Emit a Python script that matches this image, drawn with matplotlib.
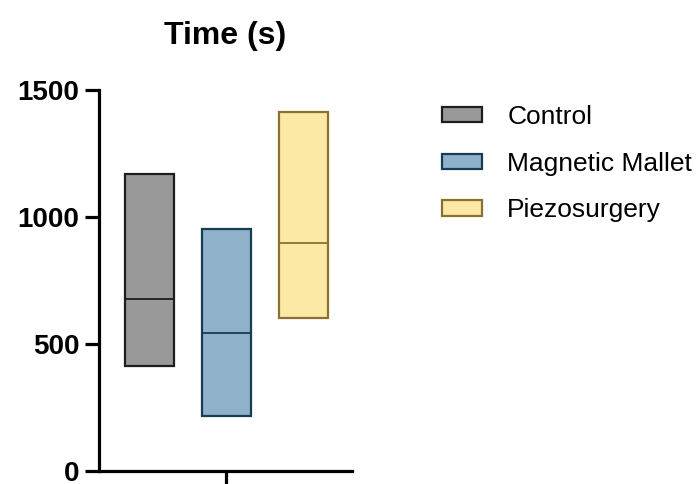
import matplotlib
matplotlib.use("Agg")
import matplotlib.pyplot as plt
from matplotlib.patches import Patch

plt.rcParams["font.family"] = ["Liberation Sans", "DejaVu Sans"]

groups = ["Control", "Magnetic Mallet", "Piezosurgery"]
lows = [412, 218, 601]
highs = [1170, 953, 1413]
medians = [678, 542, 899]
faces = ["#999999", "#8fb1ca", "#fde9a6"]
edges = ["#1e1e1e", "#173d52", "#8a7032"]

positions = [-1, 0, 1]
width = 0.64

fig = plt.figure(figsize=(6.97, 4.84), dpi=100)
ax = fig.add_axes([0.142, 0.027, 0.363, 0.787])

for x, lo, hi, med, fc, ec in zip(positions, lows, highs, medians, faces, edges):
    ax.bar(x, hi - lo, bottom=lo, width=width, color=fc, edgecolor=ec, linewidth=1.6)
    ax.plot([x - width / 2, x + width / 2], [med, med], color=ec, linewidth=1.3,
            solid_capstyle="butt")

ax.set_xlim(-1.656, 1.63)
ax.set_ylim(0, 1500)
ax.set_yticks([0, 500, 1000, 1500])
ax.set_xticks([0])
ax.set_xticklabels([""])
for lab in ax.get_yticklabels():
    lab.set_fontweight("bold")
ax.tick_params(axis="both", width=2.3, length=10, labelsize=20, pad=4)
for side in ("top", "right"):
    ax.spines[side].set_visible(False)
for side in ("left", "bottom"):
    ax.spines[side].set_linewidth(2.3)

ax.set_title("Time (s)", fontsize=23, fontweight="bold", pad=33)

handles = [Patch(facecolor=fc, edgecolor=ec, linewidth=1.6) for fc, ec in zip(faces, edges)]
fig.legend(handles, groups, loc="upper left", bbox_to_anchor=(0.619, 0.805),
           frameon=False, fontsize=19, handlelength=1.52, handleheight=0.52,
           handletextpad=0.95, labelspacing=0.86, borderaxespad=0)

fig.savefig("out.png", dpi=100)
